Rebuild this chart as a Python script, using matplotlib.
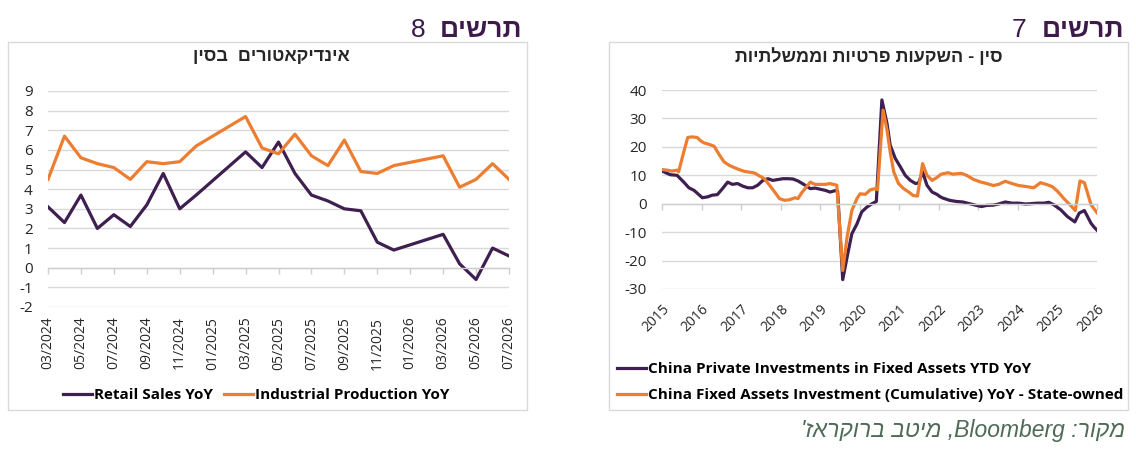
import matplotlib
matplotlib.use("Agg")
import matplotlib.pyplot as plt
import pandas as pd
from matplotlib.patches import Rectangle

W, H = 1136, 450
PURPLE = "#3e1f4f"
ORANGE = "#ed7d31"
GRID = "#d9d9d9"
AXIS = "#cfcfcf"
HEAD = "#3d1a4b"
TXT = "#262626"
SRC = "#4f6b58"
HEB = ["Liberation Sans", "DejaVu Sans"]

plt.rcParams["font.family"] = ["Open Sans", "Liberation Sans", "DejaVu Sans"]
plt.rcParams["axes.unicode_minus"] = False

# chart 8 - China indicators (monthly, Jan/Feb not published)
months_8 = ["2024-03", "2024-04", "2024-05", "2024-06", "2024-07", "2024-08",
            "2024-09", "2024-10", "2024-11", "2024-12", "2025-03", "2025-04",
            "2025-05", "2025-06", "2025-07", "2025-08", "2025-09", "2025-10",
            "2025-11", "2025-12", "2026-03", "2026-04", "2026-05", "2026-06",
            "2026-07"]
retail_sales = [3.1, 2.3, 3.7, 2.0, 2.7, 2.1, 3.2, 4.8, 3.0, 3.7, 5.9, 5.1,
                6.4, 4.8, 3.7, 3.4, 3.0, 2.9, 1.3, 0.9, 1.7, 0.2, -0.6, 1.0, 0.6]
industrial_prod = [4.5, 6.7, 5.6, 5.3, 5.1, 4.5, 5.4, 5.3, 5.4, 6.2, 7.7, 6.1,
                   5.8, 6.8, 5.7, 5.2, 6.5, 4.9, 4.8, 5.2, 5.7, 4.1, 4.5, 5.3, 4.5]
tick_months_8 = ["03/2024", "05/2024", "07/2024", "09/2024", "11/2024",
                 "01/2025", "03/2025", "05/2025", "07/2025", "09/2025",
                 "11/2025", "01/2026", "03/2026", "05/2026", "07/2026"]

# chart 7 - private vs state-owned fixed asset investment (decimal years)
private_x = [2015.00, 2015.21, 2015.38, 2015.55, 2015.68, 2015.81, 2016.02,
             2016.15, 2016.27, 2016.40, 2016.53, 2016.66, 2016.78, 2016.91,
             2017.04, 2017.17, 2017.29, 2017.42, 2017.55, 2017.68, 2017.80,
             2017.93, 2018.06, 2018.19, 2018.31, 2018.44, 2018.62, 2018.75,
             2018.87, 2019.00, 2019.13, 2019.25, 2019.38, 2019.44, 2019.57,
             2019.68, 2019.80, 2019.93, 2020.05, 2020.18, 2020.31, 2020.42,
             2020.56, 2020.69, 2020.77, 2020.90, 2021.03, 2021.15, 2021.28,
             2021.41, 2021.49, 2021.59, 2021.70, 2021.83, 2021.95, 2022.04,
             2022.10, 2022.27, 2022.44, 2022.61, 2022.78, 2022.95, 2023.08,
             2023.21, 2023.38, 2023.51, 2023.68, 2023.85, 2024.02, 2024.19,
             2024.31, 2024.49, 2024.66, 2024.78, 2024.91, 2025.08, 2025.25,
             2025.44, 2025.55, 2025.68, 2025.76, 2025.85, 2025.93, 2026.00]
private_inv = [11.5, 10.2, 10.0, 7.6, 5.6, 4.7, 2.1,
               2.4, 3.0, 3.2, 5.3, 7.6, 6.8, 7.1,
               6.2, 5.6, 5.6, 6.5, 8.2, 8.8, 8.2,
               8.5, 8.8, 8.8, 8.7, 8.0, 6.5, 5.3,
               5.5, 5.1, 4.7, 4.1, 4.6, 4.4, -26.7,
               -18.8, -10.6, -7.1, -2.9, -1.2, 0.0, 0.8,
               36.5, 28.2, 20.6, 15.9, 12.9, 10.0, 8.2,
               7.1, 7.3, 11.2, 6.5, 4.1, 3.3, 2.4,
               2.0, 1.2, 0.8, 0.6, 0.0, -0.6, -1.0,
               -0.6, -0.5, -0.1, 0.6, 0.2, 0.2, -0.1,
               0.0, 0.2, 0.2, 0.5, -0.4, -2.1, -4.5,
               -6.4, -3.3, -2.4, -4.5, -6.9, -8.3, -9.3]
state_x = [2015.00, 2015.13, 2015.25, 2015.38, 2015.42, 2015.55, 2015.65,
           2015.76, 2015.89, 2015.98, 2016.06, 2016.19, 2016.32, 2016.44,
           2016.57, 2016.70, 2016.83, 2016.95, 2017.08, 2017.21, 2017.34,
           2017.46, 2017.59, 2017.72, 2017.85, 2017.97, 2018.10, 2018.23,
           2018.36, 2018.44, 2018.53, 2018.75, 2018.87, 2019.00, 2019.13,
           2019.25, 2019.42, 2019.57, 2019.68, 2019.80, 2019.93, 2020.01,
           2020.14, 2020.27, 2020.39, 2020.45, 2020.59, 2020.69, 2020.77,
           2020.86, 2020.98, 2021.11, 2021.24, 2021.35, 2021.46, 2021.59,
           2021.70, 2021.83, 2021.95, 2022.06, 2022.23, 2022.36, 2022.57,
           2022.70, 2022.87, 2023.04, 2023.21, 2023.38, 2023.51, 2023.68,
           2023.85, 2024.02, 2024.23, 2024.40, 2024.57, 2024.74, 2024.87,
           2025.00, 2025.17, 2025.34, 2025.45, 2025.57, 2025.68, 2025.76,
           2025.85, 2026.00]
state_inv = [12.0, 11.8, 11.5, 11.8, 11.2, 18.2, 23.3,
             23.5, 23.3, 22.1, 21.4, 20.9, 20.2, 17.4,
             14.7, 13.5, 12.7, 12.0, 11.4, 11.1, 10.8,
             9.8, 8.8, 6.5, 4.1, 1.8, 1.2, 1.4,
             2.1, 1.8, 3.8, 7.6, 6.8, 6.8, 6.8,
             7.1, 6.5, -23.5, -11.8, -2.4, 1.8, 3.5,
             3.3, 4.9, 5.3, 4.9, 32.9, 25.9, 18.2,
             11.2, 7.1, 5.3, 4.1, 2.9, 2.7, 14.1,
             10.0, 8.2, 9.2, 10.4, 10.9, 10.4, 10.7,
             10.0, 8.6, 7.7, 7.1, 6.4, 6.8, 7.9,
             7.1, 6.4, 6.0, 5.6, 7.4, 6.7, 6.0,
             4.4, 1.7, -0.7, -2.4, 8.0, 7.4, 3.8,
             -0.4, -3.2]
years_7 = list(range(2015, 2027))


def fx(px):
    return px / W


def fy(py):
    return 1 - py / H


def rtl(text):
    # matplotlib has no bidi support: feed Hebrew in visual order
    return text[::-1]


def month_index(stamp, start):
    return (pd.Period(stamp, freq="M") - start).n


def style_axes(ax, ticks, labels, rotation, label_pad):
    for side in ("top", "right", "left"):
        ax.spines[side].set_visible(False)
    ax.spines["bottom"].set_position(("data", 0))
    ax.spines["bottom"].set_color(AXIS)
    ax.spines["bottom"].set_linewidth(1)
    ax.grid(axis="y", color=GRID, linewidth=1)
    ax.set_axisbelow(True)
    ax.set_xticks(ticks)
    ax.tick_params(axis="x", length=4, width=1, color=AXIS, labelbottom=False,
                   direction="out")
    ax.tick_params(axis="y", length=0, labelsize=11, labelcolor=TXT, pad=11)
    sec = ax.secondary_xaxis(0)
    sec.spines["bottom"].set_visible(False)
    if rotation == 90:
        sec.set_xticks(ticks, labels, rotation=90)
    else:
        sec.set_xticks(ticks, labels, rotation=rotation, ha="right", va="top",
                       rotation_mode="anchor")
    sec.tick_params(axis="x", length=0, labelsize=10, labelcolor=TXT,
                    pad=label_pad)
    return sec


fig = plt.figure(figsize=(W / 100, H / 100), dpi=100)

# panel frames
for x0, x1 in ((8, 527), (609, 1128)):
    fig.add_artist(Rectangle((fx(x0), fy(410)), (x1 - x0) / W, (410 - 42) / H,
                             transform=fig.transFigure, fill=False,
                             edgecolor=GRID, linewidth=1))

# headers
fig.text(fx(522), fy(37), rtl("תרשים"), ha="right", va="baseline",
         fontsize=19, fontweight="bold", color=HEAD, family=HEB)
fig.text(fx(426), fy(37), "8", ha="right", va="baseline",
         fontsize=19, color=HEAD, family=HEB)
fig.text(fx(1124), fy(37), rtl("תרשים"), ha="right", va="baseline",
         fontsize=19, fontweight="bold", color=HEAD, family=HEB)
fig.text(fx(1026), fy(37), "7", ha="right", va="baseline",
         fontsize=19, color=HEAD, family=HEB)

fig.text(fx(271), fy(57), rtl("אינדיקאטורים  בסין"), ha="center", va="center",
         fontsize=13, fontweight="bold", color=TXT, family=HEB)
fig.text(fx(869), fy(57), rtl("סין - השקעות פרטיות וממשלתיות"), ha="center",
         va="center", fontsize=13, fontweight="bold", color=TXT, family=HEB)

# chart 8
start = pd.Period("2024-03", freq="M")
x8 = [month_index(m, start) for m in months_8]
tick_x8 = [month_index(t[3:] + "-" + t[:2], start) for t in tick_months_8]

ax8 = fig.add_axes([fx(48), fy(307), (509 - 48) / W, (307 - 91) / H])
ax8.plot(x8, retail_sales, color=PURPLE, linewidth=2.3, label="Retail Sales YoY")
ax8.plot(x8, industrial_prod, color=ORANGE, linewidth=2.3,
         label="Industrial Production YoY")
ax8.set_xlim(tick_x8[0], tick_x8[-1])
ax8.set_ylim(-2, 9)
ax8.set_yticks(range(-2, 10))
style_axes(ax8, tick_x8, tick_months_8, 90, 7)
ax8.legend(loc="center", bbox_to_anchor=(fx(256), fy(395)),
           bbox_transform=fig.transFigure, ncol=2, frameon=False,
           handlelength=1.9, handletextpad=0.15, columnspacing=0.7,
           prop={"weight": "bold", "size": 11})

# chart 7
ax7 = fig.add_axes([fx(662), fy(289), (1097 - 662) / W, (289 - 90) / H])
ax7.plot(private_x, private_inv, color=PURPLE, linewidth=2.3,
         label="China Private Investments in Fixed Assets YTD YoY")
ax7.plot(state_x, state_inv, color=ORANGE, linewidth=2.3,
         label="China Fixed Assets Investment (Cumulative) YoY - State-owned")
ax7.set_xlim(years_7[0], years_7[-1])
ax7.set_ylim(-30, 40)
ax7.set_yticks(range(-30, 41, 10))
style_axes(ax7, years_7, [str(y) for y in years_7], 45, 9)
ax7.legend(loc="upper left", bbox_to_anchor=(fx(617), fy(362)),
           bbox_transform=fig.transFigure, ncol=1, frameon=False,
           handlelength=1.9, handletextpad=0.15, labelspacing=0.8,
           borderaxespad=0, borderpad=0,
           prop={"weight": "bold", "size": 11})

# source line
source = rtl("מיטב ברוקראז'") + " ,Bloomberg :" + rtl("מקור")
fig.text(fx(1125), fy(431), source, ha="right", va="center", fontsize=16.5,
         style="italic", color=SRC, family=HEB)

fig.savefig("out.png", dpi=100)
